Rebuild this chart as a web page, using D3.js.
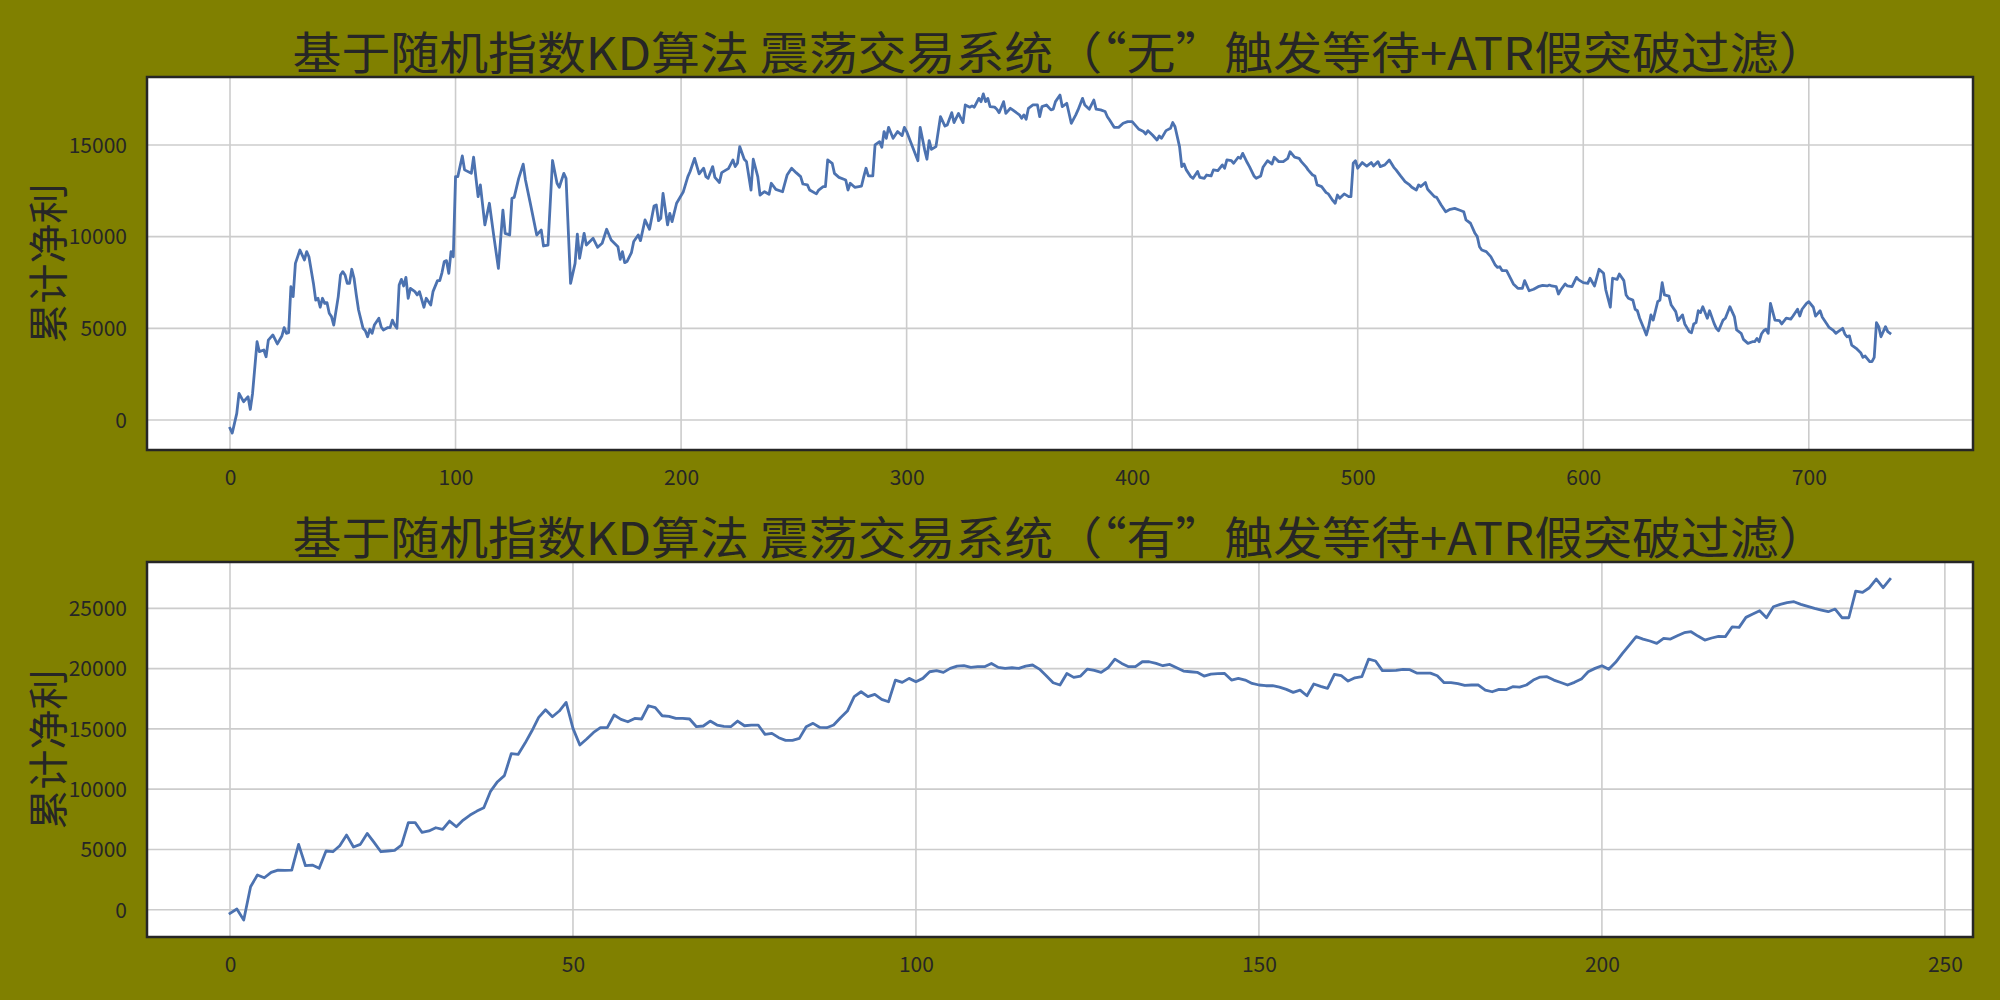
<!DOCTYPE html>
<html><head><meta charset="utf-8">
<script src="https://cdn.jsdelivr.net/npm/d3@7"></script>
<style>html,body{margin:0;padding:0;background:#808000;} svg{display:block}</style>
</head><body>
<svg id="chart" width="2000" height="1000"></svg>
<script>
// ---------------- data ----------------
const titleTop = "基于随机指数KD算法 震荡交易系统（“无”触发等待+ATR假突破过滤）";
const titleBottom = "基于随机指数KD算法 震荡交易系统（“有”触发等待+ATR假突破过滤）";
const yLabel = "累计净利";

// top panel: trade index and cumulative net profit (vertices)
const topTrade = [0,1,3,4,6,8,9,10,12,13,15,16,17,19,21,23,24,25,26,27,28,29,31,33,34,35,37,38,39,40,41,42,43,44,45,46,48,49,50,51,52,53,54,55,56,57,59,60,61,62,63,64,66,67,68,70,71,72,73,74,75,76,77,78,79,80,82,83,84,86,87,89,90,92,93,94,95,96,97,98,99,100,101,103,104,107,108,110,111,113,115,117,119,121,122,124,125,126,128,130,131,133,136,138,139,141,143,145,146,148,149,151,153,154,155,157,158,161,163,165,167,169,172,173,174,175,176,178,179,181,182,184,186,188,189,190,191,192,194,195,196,198,201,203,204,206,208,210,211,212,214,215,217,218,220,221,223,224,225,226,228,229,231,232,234,235,237,239,240,242,245,247,249,251,253,254,256,257,260,261,263,264,265,267,268,270,273,274,275,277,280,281,282,283,285,286,288,289,290,291,292,294,296,298,299,300,302,305,306,308,309,310,311,313,315,317,318,320,321,323,325,326,328,329,330,332,333,334,335,336,337,339,340,341,343,344,346,347,350,351,352,353,354,356,358,359,360,362,364,365,366,368,369,371,373,375,376,378,379,381,383,384,386,388,389,390,392,394,396,398,400,403,405,406,407,409,411,412,413,415,417,418,419,421,422,423,424,426,427,429,430,432,433,435,436,438,440,441,442,444,445,447,448,449,451,452,454,455,457,458,460,462,463,465,467,469,470,472,474,475,477,478,480,481,482,484,486,487,489,490,491,492,494,496,497,498,499,500,502,504,506,507,509,510,512,514,516,517,519,521,523,524,526,527,528,530,531,532,534,535,537,539,541,543,545,547,548,550,552,553,554,555,557,559,561,562,563,564,566,568,569,571,573,574,576,578,580,582,584,585,586,588,589,590,592,593,595,597,598,600,602,603,605,607,609,610,612,613,615,616,618,619,620,622,623,624,625,627,628,629,630,631,633,634,635,636,638,639,641,642,644,645,647,648,649,650,651,652,653,655,656,658,659,660,662,663,665,667,668,670,671,673,675,676,677,678,679,680,681,682,683,685,687,688,690,692,693,695,696,697,699,700,702,703,705,706,708,709,711,712,713,715,716,717,718,719,721,723,724,725,727,728,729,730,731,732,734,735,736];
const topProfit = [-450,-710,360,1450,1000,1270,580,1450,4270,3730,3820,3450,4360,4640,4150,4580,5040,4730,4760,7270,6730,8540,9270,8730,9180,8900,7450,6540,6640,6150,6640,6360,6400,5820,5640,5180,6730,7910,8090,7910,7450,7450,8220,7730,6820,6000,5000,4870,4540,4950,4730,5180,5550,5090,4910,5040,5040,5450,5180,5000,7360,7670,7310,7780,6640,7180,7000,6820,7000,6150,6640,6270,7000,7600,7600,8040,8640,8690,8000,9180,8900,13270,13270,14400,13640,13450,14330,12180,12820,10640,11820,10000,8270,11450,10180,10090,12090,12140,13180,13950,13090,11910,10090,10360,9490,9540,14150,12910,12690,13450,13180,7450,8540,10140,8820,10180,9540,9910,9420,9640,10400,9820,9450,8760,9180,8580,8640,9130,9730,10090,9780,10910,10400,11670,11730,10870,11000,12360,10640,11270,10820,11820,12450,13270,13550,14270,13420,13730,13270,13180,13820,13230,12950,13490,13640,13710,14180,13820,14000,14910,14220,14090,12540,14220,13270,12270,12450,12310,12910,12580,12450,13360,13730,13490,13270,12870,12820,12540,12330,12540,12730,12730,14180,14000,13450,13230,13090,12540,12910,12690,12760,13270,13730,13310,13310,15000,15180,14870,15730,15360,15960,15360,15730,15510,15960,15730,15090,14140,15960,14730,14220,15240,14760,14910,16540,16030,16090,16760,16220,16720,16220,17180,17060,17130,17060,17540,17360,17780,17360,17540,17090,17060,16950,16760,17360,16720,17000,16910,16640,16450,16640,16400,17000,17180,17180,16540,17090,17180,16910,16950,17360,17720,17090,17270,16180,16640,16910,17540,17180,16950,17450,16950,16910,16820,16540,16360,15960,15960,16180,16270,16270,15850,15730,15600,15780,15540,15270,15490,15360,15780,15910,16220,15990,14910,13820,13960,13640,13270,13180,13550,13230,13180,13360,13310,13640,13600,13910,13730,14180,14140,14000,14330,14270,14540,14040,13820,13310,13180,13310,13780,14140,13960,14330,14090,14090,14270,14630,14330,14270,14090,13820,13640,13360,13310,12820,12730,12400,12330,11960,11820,12270,12090,12330,12180,12180,14000,14140,13730,14040,13850,14040,13850,14090,13820,13910,14180,13780,13640,13310,13000,12820,12690,12540,12820,12730,12950,12580,12450,12180,12140,11730,11360,11490,11540,11450,11360,10910,10730,10180,10000,9450,9270,9180,8910,8450,8320,8360,8150,8150,7670,7420,7180,7180,7600,7050,7130,7270,7340,7310,7360,7310,7270,6870,7090,7420,7310,7270,7780,7640,7490,7450,7730,7310,8220,8000,7090,6150,7730,7670,7960,7600,6820,6640,6540,6040,5960,5550,4950,4640,5090,5730,5450,6450,6540,7490,6820,6760,6270,5910,5420,5730,5240,4820,4760,5240,5310,5960,5860,6180,5550,5960,5270,5000,4870,5450,5550,6180,5640,4910,4730,4400,4180,4270,4270,4450,4270,4690,4870,4950,4730,6360,5450,5420,5240,5550,5500,5670,6040,5670,6040,6360,6450,6150,5670,5960,5600,5240,5050,4870,4730,4820,5000,4690,4540,4590,4090,3910,3670,3420,3490,3180,3180,3420,5310,5090,4540,5090,4820,4730];

// bottom panel: cumulative net profit per trade (trade index = array position)
const bottomProfit = [-300,55,-850,1910,2880,2650,3100,3290,3260,3290,
5420,3650,3700,3430,4870,4810,5310,6190,5200,5420,
6330,5590,4810,4870,4920,5360,7220,7220,6410,6530,
6800,6660,7350,6880,7440,7850,8180,8460,9840,10620,
11120,12940,12880,13800,14820,15950,16590,16010,16480,17200,
15040,13660,14160,14710,15100,15100,16150,15790,15590,15870,
15820,16920,16760,16090,16040,15870,15870,15820,15180,15240,
15650,15320,15210,15180,15650,15260,15320,15320,14540,14630,
14270,14050,14050,14210,15180,15460,15120,15100,15320,15930,
16480,17670,18080,17670,17860,17450,17250,19050,18860,19190,
18910,19190,19740,19830,19690,20020,20210,20240,20100,20160,
20160,20430,20100,20020,20070,20020,20210,20300,19960,19410,
18830,18640,19600,19270,19380,19960,19850,19690,20070,20790,
20430,20160,20160,20570,20570,20430,20240,20350,20070,19800,
19740,19690,19380,19550,19580,19600,19050,19190,19050,18770,
18640,18580,18580,18470,18280,18030,18220,17750,18720,18530,
18360,19520,19410,18970,19240,19330,20790,20630,19830,19830,
19850,19940,19910,19630,19630,19630,19410,18830,18830,18750,
18610,18640,18640,18220,18080,18280,18250,18500,18470,18640,
19050,19300,19330,19050,18850,18640,18860,19130,19740,20020,
20240,19940,20520,21260,21950,22650,22450,22290,22090,22510,
22450,22730,22980,23060,22700,22370,22540,22670,22650,23470,
23420,24250,24530,24800,24220,25130,25330,25470,25550,25330,
25160,25000,24860,24720,24940,24220,24220,26430,26320,26710,
27430,26710,27420];

const topXTicks = [0,100,200,300,400,500,600,700];
const topYTicks = [0,5000,10000,15000];
const bottomXTicks = [0,50,100,150,200,250];
const bottomYTicks = [0,5000,10000,15000,20000,25000];

// ---------------- drawing ----------------
const svg = d3.select("#chart");
svg.append("rect").attr("width",2000).attr("height",1000).attr("fill","#808000");

const FONT = "'Noto Sans CJK SC','Noto Sans',sans-serif";
const INK = "#262626";

function padded(ext){ const r = ext[1]-ext[0]; return [ext[0]-0.05*r, ext[1]+0.05*r]; }

function panel(box, xs, ys, xTicks, yTicks, title){
  const g = svg.append("g");
  const x = d3.scaleLinear().domain(padded(d3.extent(xs))).range([box.left, box.right]);
  const y = d3.scaleLinear().domain(padded(d3.extent(ys))).range([box.bottom, box.top]);

  g.append("rect").attr("x",box.left).attr("y",box.top)
    .attr("width",box.right-box.left).attr("height",box.bottom-box.top).attr("fill","#ffffff");

  // grid
  g.append("g").selectAll("line").data(xTicks).join("line")
    .attr("x1",d=>x(d)).attr("x2",d=>x(d)).attr("y1",box.top).attr("y2",box.bottom)
    .attr("stroke","#cccccc").attr("stroke-width",1.6);
  g.append("g").selectAll("line").data(yTicks).join("line")
    .attr("y1",d=>y(d)).attr("y2",d=>y(d)).attr("x1",box.left).attr("x2",box.right)
    .attr("stroke","#cccccc").attr("stroke-width",1.6);

  // line
  const pts = xs.map((d,i)=>[d, ys[i]]);
  g.append("path").datum(pts)
    .attr("d", d3.line().x(d=>x(d[0])).y(d=>y(d[1])))
    .attr("fill","none").attr("stroke","#4c72b0").attr("stroke-width",2.8)
    .attr("stroke-linejoin","round").attr("stroke-linecap","square");

  // frame
  g.append("rect").attr("x",box.left).attr("y",box.top)
    .attr("width",box.right-box.left).attr("height",box.bottom-box.top)
    .attr("fill","none").attr("stroke",INK).attr("stroke-width",2.5);

  // axes tick labels via d3 axes
  const xAxis = g.append("g").attr("transform",`translate(0,${box.bottom})`)
    .call(d3.axisBottom(x).tickValues(xTicks).tickSize(0).tickPadding(34).tickFormat(d3.format("d")));
  const yAxis = g.append("g").attr("transform",`translate(${box.left},0)`)
    .call(d3.axisLeft(y).tickValues(yTicks).tickSize(0).tickPadding(20).tickFormat(d3.format("d")));
  [xAxis,yAxis].forEach(a=>{
    a.select(".domain").remove();
    a.selectAll("text").attr("font-family",FONT).attr("font-size",21).attr("fill",INK);
  });
  xAxis.selectAll("text").attr("dy",null).attr("dominant-baseline","alphabetic").attr("y",35);
  yAxis.selectAll("text").attr("dy","0.35em");

  // title
  const cx = (box.left+box.right)/2;
  g.append("text").attr("x",cx).attr("y",box.top-7)
    .attr("text-anchor","middle").attr("font-family",FONT).attr("font-size",45)
    .attr("fill",INK).attr("textLength",1535).attr("lengthAdjust","spacingAndGlyphs")
    .text(title);

  // y label
  const cy = (box.top+box.bottom)/2;
  g.append("text").attr("transform",`translate(63,${cy}) rotate(-90)`)
    .attr("text-anchor","middle").attr("font-family",FONT).attr("font-size",40)
    .attr("fill",INK).text(yLabel);
}

panel({left:147,right:1973,top:77,bottom:450}, topTrade, topProfit, topXTicks, topYTicks, titleTop);
panel({left:147,right:1973,top:562,bottom:937}, bottomProfit.map((d,i)=>i), bottomProfit, bottomXTicks, bottomYTicks, titleBottom);
</script>
</body></html>
